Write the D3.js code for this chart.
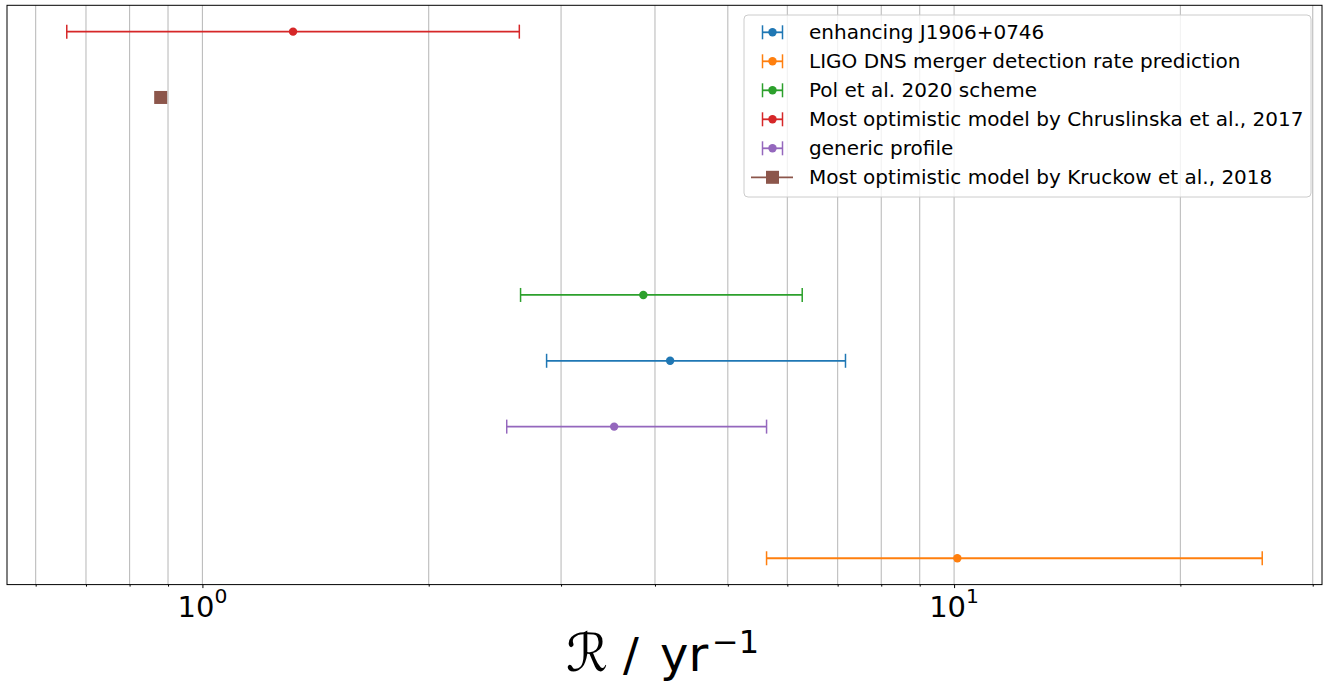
<!DOCTYPE html>
<html>
<head>
<meta charset="utf-8">
<script src="https://cdn.jsdelivr.net/npm/d3@7"></script>
<style>
  html, body { margin: 0; padding: 0; background: #ffffff; }
  svg { display: block; font-family: "DejaVu Sans", sans-serif; }
</style>
</head>
<body>
<svg id="chart" width="1325" height="683"></svg>
<script>
// Series, in legend order
const seriesNames = [
  "enhancing J1906+0746",
  "LIGO DNS merger detection rate prediction",
  "Pol et al. 2020 scheme",
  "Most optimistic model by Chruslinska et al., 2017",
  "generic profile",
  "Most optimistic model by Kruckow et al., 2018"
];
const seriesColors = ["#1f77b4", "#ff7f0e", "#2ca02c", "#d62728", "#9467bd", "#8c564b"];
const seriesRow   = [3, 0, 4, 8, 2, 7];
const rateCentral = [4.19, 10.1, 3.86, 1.32, 3.53, 0.88];
const rateLow     = [2.87, 5.63, 2.65, 0.66, 2.54, null];
const rateHigh    = [7.17, 25.7, 6.28, 2.64, 5.63, null];
const seriesMarker = ["circle", "circle", "circle", "circle", "circle", "square"];

// Axis ticks
const majorTicks = [1, 10];
const majorTickExp = ["0", "1"];
const minorTicks = [0.6, 0.7, 0.8, 0.9, 2, 3, 4, 5, 6, 7, 8, 9, 20, 30];

const svg = d3.select("#chart");
const plot = { left: 7, right: 1322, top: 5.3, bottom: 584.6 };

// Log x-range padded by 5% of the data span (in log space)
const allX = rateLow.concat(rateHigh, rateCentral).filter(v => v != null);
const lmin = Math.log10(d3.min(allX)), lmax = Math.log10(d3.max(allX));
const pad = 0.05 * (lmax - lmin);
const x = d3.scaleLog()
  .domain([Math.pow(10, lmin - pad), Math.pow(10, lmax + pad)])
  .range([plot.left, plot.right]);

const rmin = d3.min(seriesRow), rmax = d3.max(seriesRow);
const rpad = 0.05 * (rmax - rmin);
const y = d3.scaleLinear()
  .domain([rmin - rpad, rmax + rpad])
  .range([plot.bottom, plot.top]);

// Grid lines (major and minor)
const grid = svg.append("g");
grid.selectAll("line")
  .data(majorTicks.concat(minorTicks))
  .join("line")
  .attr("x1", d => x(d)).attr("x2", d => x(d))
  .attr("y1", plot.top).attr("y2", plot.bottom)
  .attr("stroke", "#b0b0b0")
  .attr("stroke-opacity", 0.85)
  .attr("stroke-width", 1.1);

// Bottom axis: ticks only, labels added as powers of ten
const axisMajor = d3.axisBottom(x).tickValues(majorTicks).tickSize(3.5).tickFormat("");
const axisMinor = d3.axisBottom(x).tickValues(minorTicks).tickSize(2).tickFormat("");
const gMaj = svg.append("g").attr("transform", `translate(0,${plot.bottom})`).call(axisMajor);
const gMin = svg.append("g").attr("transform", `translate(0,${plot.bottom})`).call(axisMinor);
[gMaj, gMin].forEach(g => {
  g.select(".domain").remove();
  g.selectAll("line").attr("stroke", "#000").attr("stroke-width", 1);
});

const tickLabels = svg.append("g");
majorTicks.forEach((t, i) => {
  const txt = tickLabels.append("text")
    .attr("x", x(t))
    .attr("y", 617)
    .attr("text-anchor", "middle")
    .attr("font-size", 29)
    .attr("fill", "#000");
  txt.append("tspan").text("10");
  txt.append("tspan").attr("dy", -14.5).attr("font-size", 20.3).text(majorTickExp[i]);
});

// Error bars and markers
const capHalf = 7;
const marks = svg.append("g");
seriesNames.forEach((name, i) => {
  const c = seriesColors[i];
  const cy = y(seriesRow[i]);
  const g = marks.append("g");
  if (rateLow[i] != null) {
    g.append("line")
      .attr("x1", x(rateLow[i])).attr("x2", x(rateHigh[i]))
      .attr("y1", cy).attr("y2", cy)
      .attr("stroke", c).attr("stroke-width", 1.8);
    [rateLow[i], rateHigh[i]].forEach(v => {
      g.append("line")
        .attr("x1", x(v)).attr("x2", x(v))
        .attr("y1", cy - capHalf).attr("y2", cy + capHalf)
        .attr("stroke", c).attr("stroke-width", 1.5);
    });
  }
  if (seriesMarker[i] === "square") {
    g.append("rect")
      .attr("x", x(rateCentral[i]) - 6.5).attr("y", cy - 6.5)
      .attr("width", 13).attr("height", 13)
      .attr("fill", c);
  } else {
    g.append("circle")
      .attr("cx", x(rateCentral[i])).attr("cy", cy)
      .attr("r", 4.2).attr("fill", c);
  }
});

// Frame
svg.append("rect")
  .attr("x", plot.left).attr("y", plot.top)
  .attr("width", plot.right - plot.left).attr("height", plot.bottom - plot.top)
  .attr("fill", "none").attr("stroke", "#000").attr("stroke-width", 1);

// Legend
const leg = svg.append("g");
leg.append("rect")
  .attr("x", 744).attr("y", 15).attr("width", 567).attr("height", 182)
  .attr("rx", 4).attr("ry", 4)
  .attr("fill", "#ffffff").attr("fill-opacity", 0.8)
  .attr("stroke", "#cccccc").attr("stroke-width", 1);

seriesNames.forEach((name, i) => {
  const ly = 32.3 + i * 29;
  const c = seriesColors[i];
  const hx = 772.5;
  if (seriesMarker[i] === "square") {
    leg.append("line").attr("x1", 751).attr("x2", 793).attr("y1", ly).attr("y2", ly)
      .attr("stroke", c).attr("stroke-width", 1.8);
    leg.append("rect").attr("x", hx - 6.5).attr("y", ly - 6.5)
      .attr("width", 13).attr("height", 13).attr("fill", c);
  } else {
    leg.append("line").attr("x1", 762.5).attr("x2", 782.5).attr("y1", ly).attr("y2", ly)
      .attr("stroke", c).attr("stroke-width", 1.8);
    [762.5, 782.5].forEach(cx => {
      leg.append("line").attr("x1", cx).attr("x2", cx)
        .attr("y1", ly - 7).attr("y2", ly + 7)
        .attr("stroke", c).attr("stroke-width", 1.5);
    });
    leg.append("circle").attr("cx", hx).attr("cy", ly).attr("r", 4.2).attr("fill", c);
  }
  leg.append("text")
    .attr("x", 809).attr("y", ly + 7)
    .attr("font-size", 20).attr("fill", "#000")
    .text(name);
});

// X-axis title: script R, slash, yr^-1
const title = svg.append("g").attr("fill", "#000");
title.append("text")
  .attr("x", 566).attr("y", 671)
  .attr("font-size", 52)
  .attr("font-family", "DejaVu Serif, DejaVu Sans, serif")
  .attr("font-style", "italic")
  .attr("textLength", 42).attr("lengthAdjust", "spacingAndGlyphs")
  .text("ℛ");
title.append("text")
  .attr("x", 623).attr("y", 671)
  .attr("font-size", 47)
  .text("/");
title.append("text")
  .attr("x", 660).attr("y", 671)
  .attr("font-size", 48)
  .text("yr");
title.append("text")
  .attr("x", 712).attr("y", 653)
  .attr("font-size", 32)
  .text("−1");
</script>
</body>
</html>
